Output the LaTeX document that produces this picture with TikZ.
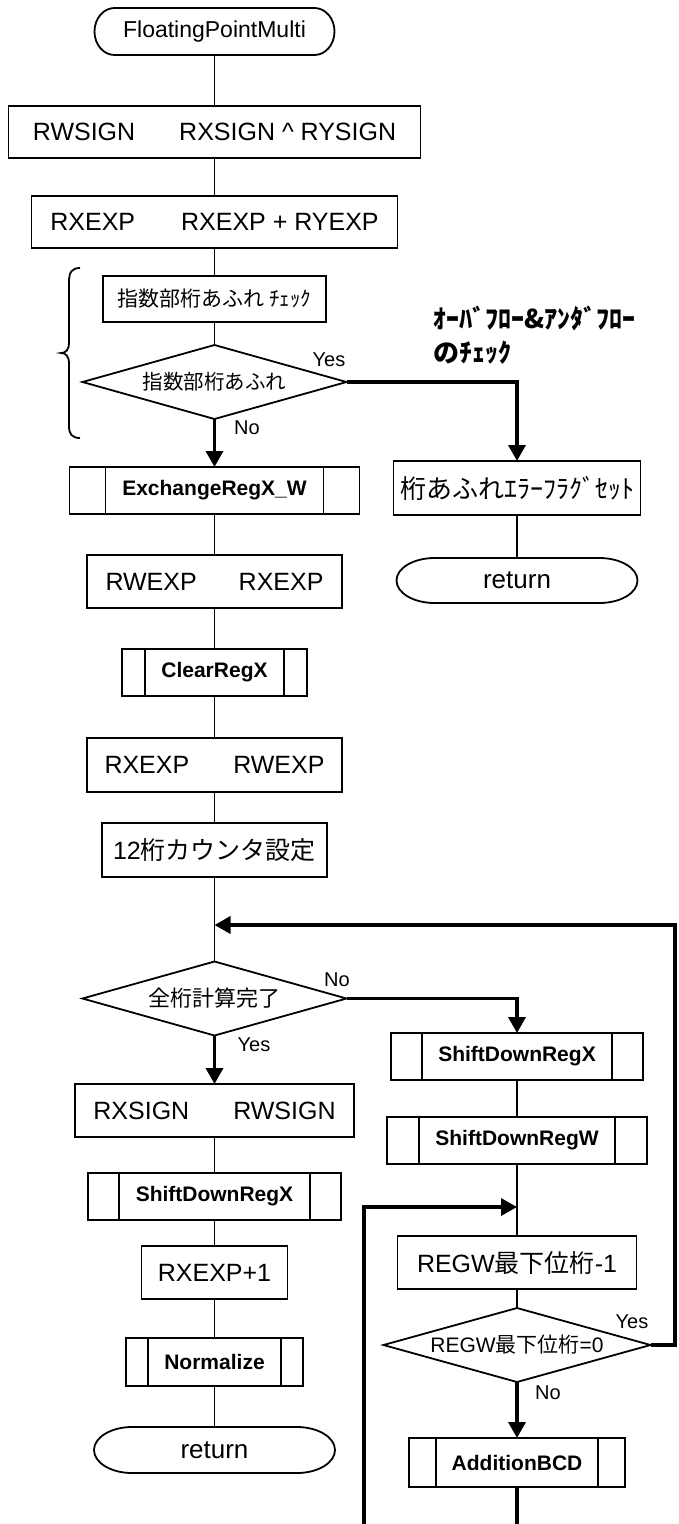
\documentclass[tikz,border=0pt]{standalone}
\usepackage{fontspec}
\setmainfont{Liberation Sans}
\newfontfamily\cjk{Noto Sans CJK JP}
\usetikzlibrary{arrows.meta}

\newcommand\sz[1]{\fontsize{#1}{#1}\selectfont}

% outline of a decision node drawn on the anchors of its rectangle
\newcommand\decisionoutline[1]{%
  \draw[outline] (#1.west) -- (#1.north) -- (#1.east) -- (#1.south) -- cycle;}
% the two inner bars of a predefined-process box
\newcommand\subbars[2]{%
  \draw[outline] ([xshift=#2]#1.north west) -- ([xshift=#2]#1.south west)
                 ([xshift=-#2]#1.north east) -- ([xshift=-#2]#1.south east);}
% terminal with elliptic ends
\newcommand\terminaloutline[3]{%
  \draw[outline] ([xshift=#2]#1.north west) -- ([xshift=-#2]#1.north east)
    arc[start angle=90,end angle=-90,x radius=#2,y radius=#3]
    -- ([xshift=#2]#1.south west)
    arc[start angle=270,end angle=90,x radius=#2,y radius=#3] -- cycle;}

\tikzset{
  outline/.style={line width=1.8pt},
  link/.style={line width=1.8pt},
  flowline/.style={line width=3.5pt},
  flow/.style={line width=3.5pt,-{Triangle[width=17pt,length=16pt]}},
  shell/.style={rectangle,inner sep=0pt,outer sep=0pt},
  procbox/.style={shell,draw,line width=1.8pt,font=\sz{25}},
  subbox/.style={shell,draw,line width=1.8pt,font=\bfseries\sz{21},minimum height=47pt},
  termbox/.style={shell,font=\sz{26}},
  decision/.style={shell,minimum width=264pt,minimum height=74pt},
  lbl/.style={font=\sz{20},inner sep=0pt},
  note/.style={font=\cjk\bfseries\sz{26},align=left,inner sep=0pt}
}

\begin{document}
\begin{tikzpicture}[x=1pt,y=-1pt]
\useasboundingbox (0,0) rectangle (679,1524);

% ---- main column ----
\node[termbox,font=\sz{23},minimum width=240pt,minimum height=47pt] (t1) at (214.5,31.5) {FloatingPointMulti};
\terminaloutline{t1}{20pt}{23.5pt}

\node[procbox,minimum width=412pt,minimum height=52pt] (b1) at (214.5,132)
  {RWSIGN\hspace{44pt}RXSIGN \textasciicircum{} RYSIGN};
\node[procbox,minimum width=366pt,minimum height=52pt] (b2) at (214.5,222)
  {RXEXP\hspace{46pt}RXEXP + RYEXP};
\node[procbox,font=\cjk\sz{21},minimum width=223pt,minimum height=46pt] (chk) at (214.5,299)
  {指数部桁あふれ ﾁｪｯｸ};
\node[decision,font=\cjk\sz{20.5}] (d1) at (214.5,382) {指数部桁あふれ};
\decisionoutline{d1}

\node[subbox,minimum width=290pt] (exch) at (214.5,490.5) {ExchangeRegX\_W};
\subbars{exch}{36pt}
\node[procbox,minimum width=255pt,minimum height=53pt] (b3) at (214.5,581.5)
  {RWEXP\hspace{42pt}RXEXP};
\node[subbox,minimum width=185pt] (clr) at (214.5,672.5) {ClearRegX};
\subbars{clr}{23pt}
\node[procbox,minimum width=255pt,minimum height=54pt] (b4) at (214.5,765)
  {RXEXP\hspace{44pt}RWEXP};
\node[procbox,minimum width=225pt,minimum height=54pt] (cnt) at (214.5,850)
  {12{\cjk 桁カウンタ設定}};
\coordinate (j1) at (214.5,925);
\node[decision,font=\cjk\sz{22}] (d2) at (214.5,998.5) {全桁計算完了};
\decisionoutline{d2}

\node[procbox,minimum width=279pt,minimum height=53pt] (sign) at (214.5,1110.5)
  {RXSIGN\hspace{44pt}RWSIGN};
\node[subbox,minimum width=253pt] (sdxl) at (214.5,1196.5) {ShiftDownRegX};
\subbars{sdxl}{31pt}
\node[procbox,minimum width=146pt,minimum height=53pt] (inc) at (214.5,1272.5) {RXEXP+1};
\node[subbox,minimum width=177pt,minimum height=48pt] (norm) at (214.5,1362) {Normalize};
\subbars{norm}{22pt}
\node[termbox,minimum width=241pt,minimum height=46pt] (ret2) at (214.5,1450) {return};
\terminaloutline{ret2}{38pt}{23pt}

% ---- overflow side ----
\node[note,anchor=west] (ovf) at (433,335)
  {ｵｰﾊﾞﾌﾛｰ\&ｱﾝﾀﾞﾌﾛｰ\\[8pt]のﾁｪｯｸ};
\node[procbox,font=\cjk\sz{26},minimum width=247pt,minimum height=54pt] (err) at (517,488)
  {桁あふれｴﾗｰﾌﾗｸﾞｾｯﾄ};
\node[termbox,minimum width=241pt,minimum height=45pt] (ret1) at (517,580.5) {return};
\terminaloutline{ret1}{38pt}{22.5pt}

% ---- loop column ----
\node[subbox,minimum width=252pt] (sdxr) at (517,1056.5) {ShiftDownRegX};
\subbars{sdxr}{31pt}
\node[subbox,minimum width=260pt] (sdw) at (517,1140.5) {ShiftDownRegW};
\subbars{sdw}{32pt}
\coordinate (j2) at (517,1207);
\node[procbox,minimum width=239pt,minimum height=53pt] (dec) at (517,1262.5)
  {REGW{\cjk 最下位桁}-1};
\node[decision,minimum width=267pt,font=\sz{21}] (d3) at (517,1345)
  {REGW{\cjk 最下位桁}=0};
\decisionoutline{d3}
\node[subbox,minimum width=216pt,minimum height=49pt] (add) at (517,1462.5) {AdditionBCD};
\subbars{add}{27pt}

\coordinate (rail) at (675,925);
\coordinate (loopfoot) at (364,1524);
\coordinate (addfoot) at (517,1524);

% ---- brace around the overflow check ----
\draw[outline] (80,268) .. controls (72,268) and (69,272) .. (69,282) -- (69,342)
  .. controls (69,350) and (66,353) .. (61,353)
  .. controls (66,353) and (69,356) .. (69,364) -- (69,426)
  .. controls (69,434) and (72,438) .. (80,438);

% ---- connectors ----
\draw[link] (t1) -- (b1);
\draw[link] (b1) -- (b2);
\draw[link] (b2) -- (chk);
\draw[link] (chk) -- (d1.north);
\draw[flow] (d1.south) -- (exch.north);
\draw[flow] (d1.east) -| (err.north);
\draw[link] (err) -- (ret1);
\draw[link] (exch) -- (b3);
\draw[link] (b3) -- (clr);
\draw[link] (clr) -- (b4);
\draw[link] (b4) -- (cnt);
\draw[link] (cnt) -- (d2.north);
\draw[flow] (d2.east) -| (sdxr.north);
\draw[flow] (d2.south) -- (sign.north);
\draw[link] (sign) -- (sdxl);
\draw[link] (sdxl) -- (inc);
\draw[link] (inc) -- (norm);
\draw[link] (norm) -- (ret2);
\draw[link] (sdxr) -- (sdw);
\draw[link] (sdw) -- (dec);
\draw[link] (dec) -- (d3.north);
\draw[flow] (d3.south) -- (add.north);
\draw[flowline] (add.south) -- (addfoot);
\draw[flow] (d3.east) -| (rail) -- (j1);
\draw[flow] (loopfoot) |- (j2);

% ---- branch labels ----
\node[lbl] (y1) at (329,360) {Yes};
\node[lbl] (n1) at (247,428) {No};
\node[lbl] (n2) at (337,980) {No};
\node[lbl] (y2) at (254,1045) {Yes};
\node[lbl] (y3) at (632,1322) {Yes};
\node[lbl] (n3) at (548,1393) {No};
\end{tikzpicture}
\end{document}
